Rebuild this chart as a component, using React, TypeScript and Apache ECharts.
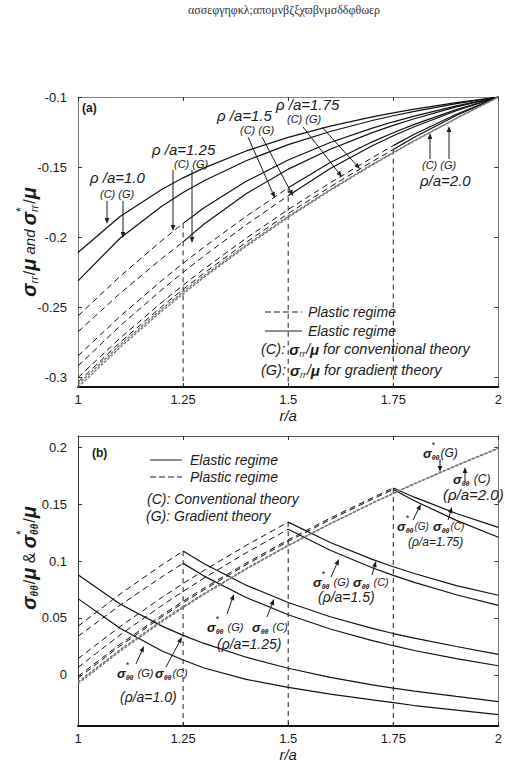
import React, { useEffect, useRef } from "react";
import * as echarts from "echarts";

// ---------- data ----------
const R = [1, 1.1, 1.2, 1.25, 1.3, 1.4, 1.5, 1.6, 1.7, 1.75, 1.8, 1.9, 2.0];
const X_TICKS = [1, 1.25, 1.5, 1.75, 2];
const A_Y_TICKS = [-0.3, -0.25, -0.2, -0.15, -0.1];
const B_Y_TICKS = [0, 0.05, 0.1, 0.15, 0.2];
const A_Y_RANGE = [-0.307, -0.1];
const B_Y_RANGE = [-0.045, 0.21];
const _ = null;

// panel (a): sigma_rr / mu   (C = conventional, G = gradient; P = plastic part, E = elastic part)
const rrC_10 = [-0.211, -0.1853, -0.1658, -0.1577, -0.1506, -0.1385, -0.1288, -0.1208, -0.1142, -0.1113, -0.1087, -0.104, -0.1];
const rrG_10 = [-0.2312, -0.2008, -0.1778, -0.1682, -0.1598, -0.1455, -0.134, -0.1246, -0.1168, -0.1134, -0.1103, -0.1047, -0.1];
const rrC_125P = [-0.2563, -0.228, -0.2023, -0.1902, _, _, _, _, _, _, _, _, _];
const rrC_125E = [_, _, _, -0.1902, -0.179, -0.1602, -0.145, -0.1325, -0.1222, -0.1177, -0.1136, -0.1063, -0.1];
const rrG_125P = [-0.2676, -0.2402, -0.2151, -0.2034, _, _, _, _, _, _, _, _, _];
const rrG_125E = [_, _, _, -0.2034, -0.1906, -0.169, -0.1515, -0.1373, -0.1254, -0.1203, -0.1155, -0.1071, -0.1];
const rrC_15P = [-0.2848, -0.2566, -0.2308, -0.2187, -0.2071, -0.1852, -0.1648, _, _, _, _, _, _];
const rrC_15E = [_, _, _, _, _, _, -0.1648, -0.1468, -0.132, -0.1255, -0.1195, -0.109, -0.1];
const rrG_15P = [-0.292, -0.2634, -0.2374, -0.2252, -0.2134, -0.1912, -0.1705, _, _, _, _, _, _];
const rrG_15E = [_, _, _, _, _, _, -0.1705, -0.151, -0.1348, -0.1277, -0.1212, -0.1098, -0.1];
const rrC_175P = [-0.3003, -0.2721, -0.2464, -0.2343, -0.2227, -0.2008, -0.1803, -0.1612, -0.1433, -0.1347, _, _, _];
const rrC_175E = [_, _, _, _, _, _, _, _, _, -0.1347, -0.1266, -0.1123, -0.1];
const rrG_175P = [-0.3035, -0.2752, -0.2494, -0.2373, -0.2257, -0.2037, -0.1832, -0.1641, -0.1461, -0.1375, _, _, _];
const rrG_175E = [_, _, _, _, _, _, _, _, _, -0.1375, -0.1287, -0.1132, -0.1];
const rrC_20 = [-0.3052, -0.277, -0.2512, -0.2391, -0.2275, -0.2056, -0.1852, -0.1661, -0.1481, -0.1395, -0.1312, -0.1152, -0.1];
const rrG_20 = [-0.3072, -0.2787, -0.2527, -0.2405, -0.2287, -0.2066, -0.186, -0.1667, -0.1485, -0.1399, -0.1314, -0.1153, -0.1];

// panel (b): sigma_thetatheta / mu
const ttC_10 = [0.088, 0.0623, 0.0428, 0.0347, 0.0276, 0.0155, 0.0058, -0.0022, -0.0088, -0.0117, -0.0143, -0.019, -0.0235];
const ttG_10 = [0.067, 0.041, 0.021, 0.013, 0.006, -0.004, -0.011, -0.017, -0.022, -0.0245, -0.027, -0.031, -0.035];
const ttC_125P = [0.0427, 0.071, 0.0967, 0.1088, _, _, _, _, _, _, _, _, _];
const ttC_125E = [_, _, _, 0.1088, 0.0976, 0.0788, 0.0636, 0.0511, 0.0408, 0.0363, 0.0322, 0.0249, 0.018];
const ttG_125P = [0.0338, 0.0612, 0.0863, 0.098, _, _, _, _, _, _, _, _, _];
const ttG_125E = [_, _, _, 0.098, 0.0868, 0.068, 0.0528, 0.0403, 0.0301, 0.0256, 0.0214, 0.0142, 0.008];
const ttC_15P = [0.0142, 0.0424, 0.0682, 0.0803, 0.0919, 0.1138, 0.1343, _, _, _, _, _, _];
const ttC_15E = [_, _, _, _, _, _, 0.1343, 0.1164, 0.1015, 0.095, 0.0891, 0.0785, 0.0700];
const ttG_15P = [0.0065, 0.0351, 0.0611, 0.0733, 0.0851, 0.1073, 0.128, _, _, _, _, _, _];
const ttG_15E = [_, _, _, _, _, _, 0.128, 0.1095, 0.0942, 0.0874, 0.0813, 0.0704, 0.061];
const ttC_175P = [-0.0013, 0.0269, 0.0526, 0.0647, 0.0763, 0.0982, 0.1187, 0.1378, 0.1557, 0.1643, _, _, _];
const ttC_175E = [_, _, _, _, _, _, _, _, _, 0.1643, 0.1562, 0.1419, 0.1296];
const ttG_175P = [-0.003, 0.0253, 0.0511, 0.0632, 0.0748, 0.0968, 0.1173, 0.1364, 0.1544, 0.163, _, _, _];
const ttG_175E = [_, _, _, _, _, _, _, _, _, 0.163, 0.1531, 0.1358, 0.121];
const ttC_20 = [-0.0062, 0.022, 0.0478, 0.0599, 0.0715, 0.0934, 0.1138, 0.1329, 0.1509, 0.1595, 0.1678, 0.1838, 0.199];
const ttG_20 = [-0.0077, 0.0208, 0.0468, 0.059, 0.0708, 0.0929, 0.1135, 0.1328, 0.151, 0.1596, 0.1681, 0.1842, 0.1995];

const TITLE = "ασσεφγηφκλ;απομνβζξχϖβνμσδδφθωερ";

// ---------- helpers ----------
const FF = "'Liberation Sans', Arial, Helvetica, sans-serif";
const INK = "#1a1a1a";
let mctx: CanvasRenderingContext2D | null = null;
function fontStr(s: number, b?: boolean, i?: boolean) {
  return `${i ? "italic " : ""}${b ? "bold " : ""}${s}px ${FF}`;
}
function measure(t: string, s: number, b?: boolean, i?: boolean) {
  if (!mctx) mctx = document.createElement("canvas").getContext("2d");
  if (!mctx) return t.length * s * 0.55;
  mctx.font = fontStr(s, b, i);
  return mctx.measureText(t).width;
}
type Tok = { t: string; s: number; b?: boolean; i?: boolean; dy?: number; adv?: boolean; gap?: number };
function txt(x: number, y: number, t: string, s: number, o: any = {}) {
  const align = o.align || "left";
  return {
    type: "text",
    x,
    y,
    z: 100,
    silent: true,
    style: {
      text: t,
      fontSize: s,
      fontFamily: FF,
      fontWeight: o.b ? "bold" : "normal",
      fontStyle: o.i ? "italic" : "normal",
      fill: o.color || INK,
      align,
      textAlign: align,
      verticalAlign: "middle",
      textVerticalAlign: "middle",
    },
  };
}
function seqWidth(toks: Tok[]) {
  let w = 0;
  for (const k of toks) if (k.adv !== false) w += measure(k.t, k.s, k.b, k.i) + (k.gap || 0);
  return w;
}
function seq(x0: number, y0: number, toks: Tok[]) {
  let x = x0;
  const els: any[] = [];
  for (const k of toks) {
    els.push(txt(x, y0 + (k.dy || 0), k.t, k.s, { b: k.b, i: k.i }));
    if (k.adv !== false) x += measure(k.t, k.s, k.b, k.i) + (k.gap || 0);
  }
  return els;
}
function vlabel(cx: number, cy: number, toks: Tok[]) {
  const w = seqWidth(toks);
  return { type: "group", x: cx, y: cy, rotation: Math.PI / 2, z: 100, children: seq(-w / 2, 0, toks) };
}
function arrow(x1: number, y1: number, x2: number, y2: number) {
  const ang = Math.atan2(y2 - y1, x2 - x1);
  const L = 6, W = 2.3;
  const bx = x2 - L * Math.cos(ang), by = y2 - L * Math.sin(ang);
  const px = -Math.sin(ang) * W, py = Math.cos(ang) * W;
  return [
    { type: "line", z: 100, silent: true, shape: { x1, y1, x2: bx, y2: by }, style: { stroke: INK, lineWidth: 1 } },
    { type: "polygon", z: 100, silent: true, shape: { points: [[x2, y2], [bx + px, by + py], [bx - px, by - py]] }, style: { fill: INK } },
  ];
}
function hline(x1: number, x2: number, y: number, dash?: number[]) {
  return { type: "line", z: 100, silent: true, shape: { x1, y1: y, x2, y2: y }, style: { stroke: INK, lineWidth: 1, lineDash: dash || null } };
}
// sigma_thetatheta label: sigma, optional star, subscript
function sigTT(x: number, y: number, star: boolean, tag: string, tagSize = 11) {
  const toks: Tok[] = [{ t: "σ", s: 13, b: true, i: true }];
  if (star) toks.push({ t: "*", s: 9, dy: -8, adv: false, gap: 0 });
  toks.push({ t: "θθ", s: 7, b: true, i: true, dy: 4, gap: 1 });
  toks.push({ t: tag, s: tagSize, i: true });
  return seq(x, y, toks);
}

const pts = (v: (number | null)[]) =>
  R.map((r, i) => (v[i] == null ? null : [r, v[i] as number])).filter((p) => p !== null);

const STY: any = {
  el: { color: "#111", width: 1.2, type: "solid" },
  pl: { color: "#111", width: 1, type: [6, 4] },
  fp: { color: "#777", width: 1.4, type: [3, 1.5] },
  ref: { color: "#222", width: 1, type: [5, 4] },
};
function ser(data: any[], panel: number, kind: string) {
  return {
    type: "line",
    xAxisIndex: panel * 2,
    yAxisIndex: panel * 2,
    data,
    showSymbol: false,
    symbol: "none",
    smooth: false,
    silent: true,
    lineStyle: STY[kind],
    z: kind === "ref" ? 2 : 3,
  };
}

function buildOption() {
  const series: any[] = [];
  // (a)
  [rrC_10, rrG_10, rrC_125E, rrG_125E, rrC_15E, rrG_15E, rrC_175E, rrG_175E].forEach((v) => series.push(ser(pts(v), 0, "el")));
  [rrC_125P, rrG_125P, rrC_15P, rrG_15P, rrC_175P, rrG_175P].forEach((v) => series.push(ser(pts(v), 0, "pl")));
  [rrC_20, rrG_20].forEach((v) => series.push(ser(pts(v), 0, "fp")));
  [[1.25, rrC_125E[3]], [1.5, rrC_15E[6]], [1.75, rrG_175E[9]]].forEach(([x, y]) =>
    series.push(ser([[x, y], [x, A_Y_RANGE[0]]], 0, "ref"))
  );
  // (b)
  [ttC_10, ttG_10, ttC_125E, ttG_125E, ttC_15E, ttG_15E, ttC_175E, ttG_175E].forEach((v) => series.push(ser(pts(v), 1, "el")));
  [ttC_125P, ttG_125P, ttC_15P, ttG_15P, ttC_175P, ttG_175P].forEach((v) => series.push(ser(pts(v), 1, "pl")));
  [ttC_20, ttG_20].forEach((v) => series.push(ser(pts(v), 1, "fp")));
  [[1.25, ttC_125E[3]], [1.5, ttC_15E[6]], [1.75, ttC_175E[9]]].forEach(([x, y]) =>
    series.push(ser([[x, y], [x, B_Y_RANGE[0]]], 1, "ref"))
  );

  const lblX = { customValues: X_TICKS, fontSize: 13, color: INK, fontFamily: FF, margin: 6, formatter: (v: number) => String(v) };
  const tick = (vals: number[]) => ({ show: true, inside: true, length: 4, customValues: vals, lineStyle: { color: "#333" } });
  const mkX = (grid: number, bottom: boolean) => ({
    type: "value",
    gridIndex: grid,
    position: bottom ? "bottom" : "top",
    min: 1,
    max: 2,
    axisLine: { show: true, onZero: false, lineStyle: bottom ? { color: "#111", width: 2 } : { color: grid === 0 ? "#888" : "#555", width: 1 } },
    axisTick: tick(X_TICKS),
    axisLabel: bottom ? lblX : { show: false },
    splitLine: { show: false },
    name: bottom ? "r/a" : "",
    nameLocation: "middle",
    nameGap: 21,
    nameTextStyle: { fontSize: 15, fontStyle: "italic", fontFamily: FF, color: INK },
  });
  const mkY = (grid: number, left: boolean, range: number[], ticks: number[]) => ({
    type: "value",
    gridIndex: grid,
    position: left ? "left" : "right",
    min: range[0],
    max: range[1],
    axisLine: { show: true, onZero: false, lineStyle: { color: left ? (grid === 0 ? "#777" : "#333") : "#777", width: 1 } },
    axisTick: tick(ticks),
    axisLabel: left
      ? { customValues: ticks, fontSize: 13, color: INK, fontFamily: FF, margin: 11, formatter: (v: number) => String(v) }
      : { show: false },
    splitLine: { show: false },
  });

  const g: any[] = [];
  g.push({ type: "text", x: 188, y: 10, z: 100, silent: true, style: { text: TITLE, fontSize: 12, fontFamily: "'Liberation Serif', 'DejaVu Serif', serif", fill: "#333", verticalAlign: "middle", textVerticalAlign: "middle" } });
  // y-axis names
  g.push(
    vlabel(29, 242, [
      { t: "σ", s: 20, b: true, i: true },
      { t: "rr", s: 11, i: true, dy: 5, gap: 1 },
      { t: "/", s: 16 },
      { t: "μ", s: 20, b: true, i: true },
      { t: " and ", s: 15, i: true },
      { t: "σ", s: 20, b: true, i: true },
      { t: "*", s: 12, dy: -8, adv: false },
      { t: "rr", s: 11, i: true, dy: 5, gap: 1 },
      { t: "/", s: 16 },
      { t: "μ", s: 20, b: true, i: true },
    ])
  );
  g.push(
    vlabel(29, 558, [
      { t: "σ", s: 20, b: true, i: true },
      { t: "θθ", s: 10, b: true, i: true, dy: 5, gap: 1 },
      { t: "/", s: 16 },
      { t: "μ", s: 20, b: true, i: true },
      { t: " & ", s: 16 },
      { t: "σ", s: 20, b: true, i: true },
      { t: "*", s: 12, dy: -8, adv: false },
      { t: "θθ", s: 10, b: true, i: true, dy: 5, gap: 1 },
      { t: "/", s: 16 },
      { t: "μ", s: 20, b: true, i: true },
    ])
  );
  // panel tags
  g.push(txt(82, 108, "(a)", 12, { b: true }));
  g.push(txt(92, 453, "(b)", 12, { b: true }));

  // ---- panel (a) annotations ----
  g.push(txt(90, 177, "ρ /a=1.0", 15, { i: true }), txt(100, 194, "(C) (G)", 11, { i: true }));
  g.push(...arrow(107, 201, 107, 224), ...arrow(123, 201, 123, 238));
  g.push(txt(152, 149, "ρ /a=1.25", 15, { i: true }), txt(174, 164, "(C) (G)", 11, { i: true }));
  g.push(...arrow(173, 170, 173, 231), ...arrow(192, 170, 192, 243));
  g.push(txt(217, 115, "ρ /a=1.5", 15, { i: true }), txt(240, 130, "(C) (G)", 11, { i: true }));
  g.push(...arrow(248, 137, 275, 198), ...arrow(262, 137, 293, 196));
  g.push(txt(276, 104, "ρ /a=1.75", 15, { i: true }), txt(287, 119, "(C) (G)", 11, { i: true }));
  g.push(...arrow(303, 127, 342, 177), ...arrow(322, 127, 360, 169));
  g.push(txt(422, 165, "(C) (G)", 11, { i: true }), txt(420, 180, "ρ/a=2.0", 15, { i: true }));
  g.push(...arrow(430, 159, 430, 133), ...arrow(449, 159, 449, 126));
  // legend (a)
  g.push(hline(265, 302, 312, [6, 3]), txt(308, 312, "Plastic regime", 14, { i: true }));
  g.push(hline(265, 302, 331), txt(308, 331, "Elastic regime", 14, { i: true }));
  g.push(
    ...seq(261, 349, [
      { t: "(C): ", s: 14.5, i: true },
      { t: "σ", s: 15, b: true, i: true },
      { t: "rr", s: 9, i: true, dy: 5, gap: 1 },
      { t: "/", s: 14, i: true },
      { t: "μ", s: 15, b: true, i: true },
      { t: " for conventional theory", s: 14.5, i: true },
    ])
  );
  g.push(
    ...seq(261, 370, [
      { t: "(G): ", s: 14.5, i: true },
      { t: "σ", s: 15, b: true, i: true },
      { t: "rr", s: 9, i: true, dy: 5, gap: 1 },
      { t: "/", s: 14, i: true },
      { t: "μ", s: 15, b: true, i: true },
      { t: " for gradient theory", s: 14.5, i: true },
    ])
  );

  // ---- panel (b) legend ----
  g.push(hline(150, 182, 460), txt(190, 460, "Elastic regime", 14, { i: true }));
  g.push(hline(150, 182, 477, [6, 3]), txt(190, 477, "Plastic regime", 14, { i: true }));
  g.push(txt(147, 499, "(C): Conventional theory", 14, { i: true }));
  g.push(txt(146, 516, "(G): Gradient theory", 14, { i: true }));

  // ---- panel (b) annotations ----
  g.push(...sigTT(117, 673, true, " (G)"), ...sigTT(155, 673, false, "(C)"), txt(120, 697, "(ρ/a=1.0)", 14, { i: true }));
  g.push(...arrow(136, 664, 144, 646), ...arrow(166, 667, 182, 637));
  g.push(...sigTT(207, 627, true, " (G)"), ...sigTT(252, 627, false, " (C)"), txt(217, 644, "(ρ/a=1.25)", 14, { i: true }));
  g.push(...arrow(227, 614, 234, 594), ...arrow(267, 617, 274, 599));
  g.push(...sigTT(313, 582, true, " (G)"), ...sigTT(353, 582, false, " (C)"), txt(318, 597, "(ρ/a=1.5)", 14, { i: true }));
  g.push(...arrow(331, 577, 339, 559), ...arrow(372, 575, 376, 561));
  g.push(...sigTT(397, 526, true, "(G)", 10), ...sigTT(433, 526, false, "(C)", 10), txt(408, 542, "(ρ/a=1.75)", 12, { i: true }));
  g.push(...arrow(413, 520, 421, 504), ...arrow(448, 520, 452, 507));
  g.push(...sigTT(423, 453, true, "(G)", 12), ...sigTT(453, 479, false, " (C)", 12), txt(443, 494, "(ρ/a=2.0)", 15, { i: true }));
  g.push(...arrow(440, 459, 440, 472), ...arrow(465, 482, 465, 467));

  return {
    animation: false,
    backgroundColor: "#fff",
    grid: [
      { left: 78, top: 97, width: 426, height: 290 },
      { left: 78, top: 436, width: 426, height: 292 },
    ],
    xAxis: [mkX(0, true), mkX(0, false), mkX(1, true), mkX(1, false)],
    yAxis: [mkY(0, true, A_Y_RANGE, A_Y_TICKS), mkY(0, false, A_Y_RANGE, A_Y_TICKS), mkY(1, true, B_Y_RANGE, B_Y_TICKS), mkY(1, false, B_Y_RANGE, B_Y_TICKS)],
    series,
    graphic: { elements: g },
  };
}

export default function App() {
  const ref = useRef<HTMLDivElement>(null);
  useEffect(() => {
    if (!ref.current) return;
    const chart = echarts.init(ref.current, undefined, { renderer: "svg" });
    chart.setOption(buildOption() as any);
    return () => chart.dispose();
  }, []);
  return <div ref={ref} style={{ position: "fixed", left: 0, top: 0, width: 505, height: 763, background: "#fff" }} />;
}
